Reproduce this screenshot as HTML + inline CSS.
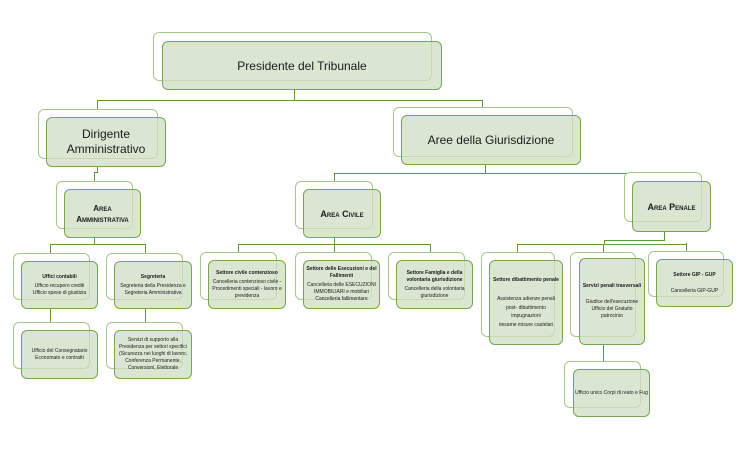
<!DOCTYPE html>
<html><head><meta charset="utf-8"><style>
body{margin:0;width:746px;height:468px;background:#fff;position:relative;overflow:hidden;font-family:"Liberation Sans",sans-serif;}
.b{position:absolute;border:1.3px solid #a6c78c;border-radius:6px;background:#fff;box-sizing:border-box;}
.f{position:absolute;border:1.5px solid #77a653;border-radius:6px;background:rgba(205,222,193,0.75);box-sizing:border-box;display:flex;flex-direction:column;align-items:center;justify-content:center;text-align:center;color:#1a1a1a;}
.l{position:absolute;background:#5f9a3a;}
.s{font-size:5px;line-height:7px;}
.s b{font-weight:bold;display:block;margin-bottom:2px;}
.sc{font-variant:small-caps;font-weight:bold;}
</style></head><body>
<!-- connectors -->
<div class="l" style="left:294px;top:89px;width:1px;height:12px"></div>
<div class="l" style="left:97px;top:100px;width:386px;height:1px"></div>
<div class="l" style="left:97px;top:100px;width:1px;height:12px"></div>
<div class="l" style="left:482px;top:100px;width:1px;height:10px"></div>
<div class="l" style="left:97px;top:166px;width:1px;height:7px"></div>
<div class="l" style="left:94px;top:172px;width:4px;height:1px"></div>
<div class="l" style="left:94px;top:172px;width:1px;height:10px"></div>
<div class="l" style="left:485px;top:164px;width:1px;height:10px"></div>
<div class="l" style="left:334px;top:173px;width:152px;height:1px"></div>
<div class="l" style="left:485px;top:173px;width:180px;height:1px"></div>
<div class="l" style="left:334px;top:173px;width:1px;height:9px"></div>
<div class="l" style="left:664px;top:173px;width:1px;height:3px"></div>
<div class="l" style="left:94px;top:237px;width:1px;height:8px"></div>
<div class="l" style="left:50px;top:244px;height:1px;width:96px"></div>
<div class="l" style="left:50px;top:244px;width:1px;height:12px"></div>
<div class="l" style="left:145px;top:244px;width:1px;height:12px"></div>
<div class="l" style="left:50px;top:308px;width:1px;height:16px"></div>
<div class="l" style="left:145px;top:308px;width:1px;height:16px"></div>
<div class="l" style="left:334px;top:237px;width:1px;height:8px"></div>
<div class="l" style="left:238px;top:244px;width:193px;height:1px"></div>
<div class="l" style="left:238px;top:244px;width:1px;height:10px"></div>
<div class="l" style="left:334px;top:244px;width:1px;height:10px"></div>
<div class="l" style="left:430px;top:244px;width:1px;height:10px"></div>
<div class="l" style="left:664px;top:232px;width:1px;height:8px"></div>
<div class="l" style="left:604px;top:240px;width:61px;height:1px"></div>
<div class="l" style="left:604px;top:240px;width:1px;height:5px"></div>
<div class="l" style="left:517px;top:244px;width:88px;height:1px"></div>
<div class="l" style="left:517px;top:244px;width:1px;height:10px"></div>
<div class="l" style="left:603px;top:244px;width:1px;height:10px"></div>
<div class="l" style="left:686px;top:243px;width:1px;height:10px"></div>
<div class="l" style="left:604px;top:244px;width:82px;height:1px"></div>
<div class="l" style="left:603px;top:345px;width:1px;height:18px"></div>

<!-- Presidente -->
<div class="b" style="left:153px;top:32px;width:279px;height:49px"></div>
<div class="f" style="left:162px;top:41px;width:280px;height:49px;font-size:12px;">Presidente del Tribunale</div>
<!-- Dirigente -->
<div class="b" style="left:38px;top:109px;width:120px;height:50px"></div>
<div class="f" style="left:46px;top:117px;width:120px;height:50px;font-size:12px;line-height:15px;">Dirigente<br>Amministrativo</div>
<!-- Aree -->
<div class="b" style="left:393px;top:107px;width:180px;height:50px"></div>
<div class="f" style="left:401px;top:115px;width:180px;height:50px;font-size:12px;">Aree della Giurisdizione</div>
<!-- Area Amm -->
<div class="b" style="left:56px;top:181px;width:77px;height:48px"></div>
<div class="f sc" style="left:64px;top:189px;width:77px;height:49px;font-size:8px;line-height:11px;">Area<br>Amministrativa</div>
<!-- Area Civile -->
<div class="b" style="left:295px;top:181px;width:78px;height:48px"></div>
<div class="f sc" style="left:303px;top:189px;width:78px;height:49px;font-size:9px;">Area Civile</div>
<!-- Area Penale -->
<div class="b" style="left:624px;top:172px;width:78px;height:50px"></div>
<div class="f sc" style="left:632px;top:181px;width:79px;height:51px;font-size:9px;">Area Penale</div>

<!-- Amm children -->
<div class="b" style="left:13px;top:253px;width:77px;height:47px"></div>
<div class="f s" style="left:21px;top:261px;width:77px;height:48px;"><b>Uffici contabili</b>Ufficio recupero crediti<br>Ufficio spese di giustizia</div>
<div class="b" style="left:106px;top:253px;width:77px;height:47px"></div>
<div class="f s" style="left:114px;top:261px;width:78px;height:48px;"><b>Segreteria</b>Segreteria della Presidenza e Segreteria Amministrativa</div>
<div class="b" style="left:13px;top:322px;width:77px;height:47px"></div>
<div class="f s" style="left:21px;top:330px;width:77px;height:49px;">Ufficio del Consegnatario Economato e contratti</div>
<div class="b" style="left:106px;top:322px;width:77px;height:47px"></div>
<div class="f s" style="left:114px;top:330px;width:78px;height:49px;">Servizi di supporto alla Presidenza per settori specifici (Sicurezza nei luoghi di lavoro, Conferenza Permanente, Conversioni, Elettorale</div>

<!-- Civile children -->
<div class="b" style="left:200px;top:252px;width:77px;height:48px"></div>
<div class="f s" style="left:208px;top:260px;width:78px;height:49px;"><b>Settore civile contenzioso</b>Cancelleria contenzioso civile - Procedimenti speciali - lavoro e previdenza</div>
<div class="b" style="left:295px;top:252px;width:77px;height:48px"></div>
<div class="f s" style="left:303px;top:260px;width:77px;height:49px;"><b>Settore delle Esecuzioni e del Fallimenti</b>Cancelleria delle ESECUZIONI IMMOBILIARI e mobiliari Cancelleria fallimentare</div>
<div class="b" style="left:388px;top:252px;width:77px;height:48px"></div>
<div class="f s" style="left:396px;top:260px;width:77px;height:49px;"><b>Settore Famiglia e della volontaria giurisdizione</b>Cancelleria della volontaria giurisdizione</div>

<!-- Penale children -->
<div class="b" style="left:481px;top:252px;width:74px;height:85px"></div>
<div class="f s" style="left:489px;top:260px;width:74px;height:85px;line-height:8.5px;"><b>Settore dibattimento penale</b><br>Assistenza udienze penali<br>post- dibattimento<br>impugnazioni<br>riesame misure cautelari</div>
<div class="b" style="left:570px;top:252px;width:66px;height:85px"></div>
<div class="f s" style="left:579px;top:258px;width:66px;height:87px;"><b>Servizi penali trasversali</b><br>Giudice dell'esecuzione<br>Ufficio del Gratuito patrocinio</div>
<div class="b" style="left:648px;top:251px;width:76px;height:46px"></div>
<div class="f s" style="left:656px;top:259px;width:77px;height:48px;"><b>Settore GIP - GUP</b><br>Cancelleria GIP-GUP</div>
<div class="b" style="left:564px;top:361px;width:77px;height:47px"></div>
<div class="f s" style="left:573px;top:369px;width:77px;height:48px;">Ufficio unico Corpi di reato e Fug</div>
</body></html>
